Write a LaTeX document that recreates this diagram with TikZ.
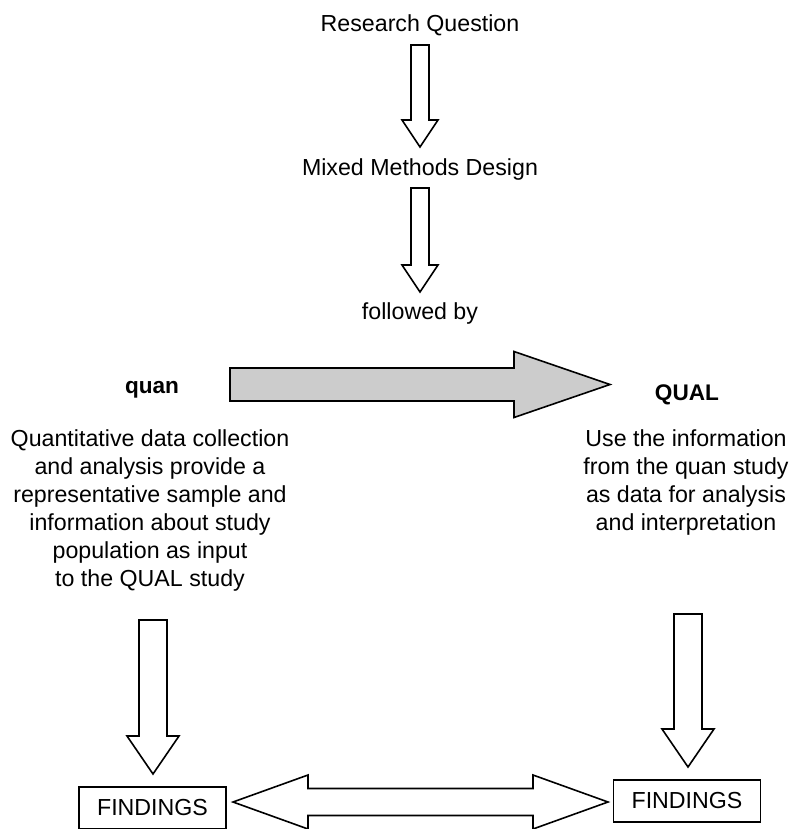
\documentclass[tikz,border=0pt]{standalone}
\usepackage{fontspec}
\setmainfont{Liberation Sans}
\usepackage{tikz}
\usetikzlibrary{positioning, calc}

% block arrows: start, tip, shaft half width, head half width, head length
\newcommand{\fatdown}[5]{%
  \draw[blockarrow] ($(#1)+(-#3,0)$) -- ($(#2)+(-#3,-#5)$) -- ($(#2)+(-#4,-#5)$) -- (#2)
    -- ($(#2)+(#4,-#5)$) -- ($(#2)+(#3,-#5)$) -- ($(#1)+(#3,0)$) -- cycle;}
\newcommand{\fatright}[6]{%
  \draw[blockarrow, #6] ($(#1)+(0,-#3)$) -- ($(#2)+(-#5,-#3)$) -- ($(#2)+(-#5,-#4)$) -- (#2)
    -- ($(#2)+(-#5,#4)$) -- ($(#2)+(-#5,#3)$) -- ($(#1)+(0,#3)$) -- cycle;}
\newcommand{\fatboth}[5]{%
  \draw[blockarrow] (#1) -- ($(#1)+(#5,-#4)$) -- ($(#1)+(#5,-#3)$) -- ($(#2)+(-#5,-#3)$)
    -- ($(#2)+(-#5,-#4)$) -- (#2) -- ($(#2)+(-#5,#4)$) -- ($(#2)+(-#5,#3)$)
    -- ($(#1)+(#5,#3)$) -- ($(#1)+(#5,#4)$) -- cycle;}

\begin{document}
\begin{tikzpicture}[
        x=0.5pt, y=-0.5pt,
        label/.style={inner sep=0pt, font=\fontsize{11.6}{14}\selectfont},
        head/.style={label, font=\fontsize{11.3}{14}\selectfont\bfseries},
        block/.style={label, align=center},
        findbox/.style={label, draw, line width=0.8pt, minimum width=73.5pt, minimum height=21pt},
        blockarrow/.style={draw, line width=0.8pt, fill=white, line join=miter}
    ]
        \useasboundingbox[fill=white] (0,0) rectangle (794,829);

        % Top chain
        \node[label] (rq) at (420,25) {Research Question};
        \node[label] (mmd) at (420,170) {Mixed Methods Design};
        \node[label] (fb) at (420,313) {followed by};

        % Two strands
        \node[head, anchor=base] (quan) at (152,393) {quan};
        \node[head, anchor=base] (qual) at (687,400) {QUAL};
        \node[block] (quantext) at (150,510) {Quantitative data collection\\and analysis provide a\\representative sample and\\information about study\\population as input\\to the QUAL study};
        \node[block] (qualtext) at (686,482) {Use the information\\from the quan study\\as data for analysis\\and interpretation};

        % Findings
        \node[findbox] (findl) at (152.5,808) {FINDINGS};
        \node[findbox] (findr) at (687,801) {FINDINGS};

        % Arrow ends
        \coordinate (a1s) at (420,45);
        \coordinate (a1e) at (420,147);
        \coordinate (a2s) at (420,188);
        \coordinate (a2e) at (420,292);
        \coordinate (bigs) at (230,384.5);
        \coordinate (bige) at (610,384.5);
        \coordinate (dls) at (153,620);
        \coordinate (dle) at (153,774);
        \coordinate (drs) at (688,614);
        \coordinate (dre) at (688,767);
        \coordinate (fl) at (233,802);
        \coordinate (fr) at (608,802);

        % Arrows
        \fatdown{a1s}{a1e}{9}{18}{27}
        \fatdown{a2s}{a2e}{9}{18}{27}
        \fatright{bigs}{bige}{16.5}{33}{96}{fill=black!20}
        \fatdown{dls}{dle}{14}{26}{38}
        \fatdown{drs}{dre}{14}{26}{38}
        \fatboth{fl}{fr}{13.5}{27}{75}
\end{tikzpicture}
\end{document}
